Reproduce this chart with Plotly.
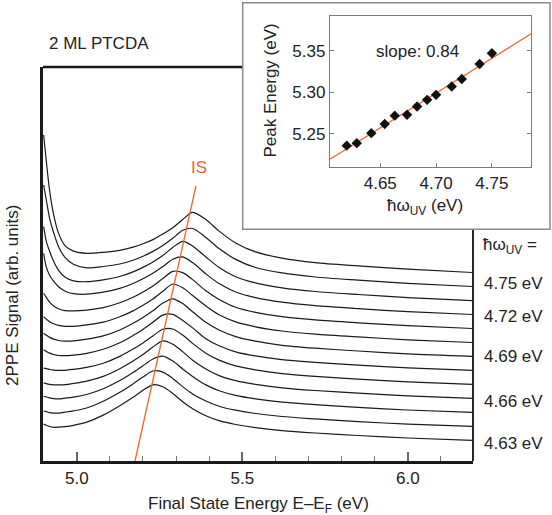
import numpy as np
import plotly.graph_objects as go

# ---------------- data ----------------
# final state energy grid (eV)
energy = [4.900, 4.908, 4.918, 4.930, 4.945, 4.965, 4.990, 5.030, 5.080, 5.130,
          5.170, 5.200, 5.230, 5.260, 5.290, 5.320, 5.350, 5.390, 5.430, 5.480,
          5.540, 5.620, 5.720, 5.850, 6.000, 6.195]

# 2PPE spectra (arb. units, offset), top (highest photon energy) to bottom
spec_4755 = [326.0, 299.9, 270.3, 246.6, 227.6, 215.2, 209.9, 207.7, 208.7, 210.7, 213.8, 217.2, 221.4, 226.9, 233.3, 241.5, 248.6, 241.4, 229.9, 218.1, 209.1, 202.9, 198.4, 195.1, 191.8, 188.5]
spec_4744 = [276.0, 261.0, 242.6, 228.5, 214.3, 203.4, 196.8, 193.1, 194.5, 197.0, 200.8, 204.7, 209.6, 215.5, 222.7, 230.8, 232.5, 223.6, 212.4, 201.6, 193.5, 188.1, 184.0, 180.8, 177.6, 174.5]
spec_4728 = [234.3, 219.7, 209.7, 199.7, 190.7, 183.7, 180.2, 179.3, 181.1, 184.5, 189.1, 193.6, 199.1, 205.6, 213.5, 219.7, 215.1, 204.0, 193.6, 184.3, 178.1, 173.2, 169.5, 166.5, 163.4, 160.4]
spec_4719 = [207.7, 193.8, 185.8, 179.8, 174.3, 169.8, 167.3, 166.8, 168.8, 172.6, 177.5, 182.2, 187.7, 194.4, 201.8, 204.1, 198.4, 187.1, 177.4, 169.0, 163.4, 158.8, 155.3, 152.3, 149.3, 146.5]
spec_4704 = [167.7, 163.6, 158.9, 155.1, 152.3, 150.4, 150.1, 150.9, 153.4, 158.2, 163.7, 169.0, 175.0, 182.5, 189.7, 188.4, 181.4, 170.2, 161.6, 153.8, 148.7, 144.3, 141.1, 138.2, 135.3, 132.5]
spec_4696 = [144.3, 141.9, 139.3, 137.3, 135.6, 134.7, 134.7, 136.1, 138.8, 144.2, 150.1, 155.8, 162.0, 169.8, 177.0, 173.2, 165.5, 155.1, 146.3, 139.1, 134.2, 130.0, 126.9, 124.1, 121.2, 118.5]
spec_4688 = [127.8, 125.8, 123.6, 121.9, 120.5, 119.9, 120.2, 121.8, 125.1, 131.0, 137.7, 143.6, 150.2, 157.9, 162.2, 157.4, 149.3, 138.7, 131.0, 124.4, 119.8, 115.7, 112.8, 110.0, 107.1, 104.6]
spec_4678 = [111.2, 109.6, 107.9, 106.5, 105.5, 105.3, 105.9, 107.7, 111.7, 118.2, 125.5, 131.6, 138.8, 145.9, 146.6, 140.5, 133.1, 122.3, 115.3, 109.2, 105.1, 101.4, 98.7, 95.9, 93.1, 90.6]
spec_4668 = [92.9, 92.3, 91.5, 90.9, 90.6, 90.7, 91.7, 93.6, 97.8, 104.6, 111.9, 118.1, 125.1, 131.8, 132.0, 125.9, 117.6, 107.8, 100.9, 95.1, 91.1, 87.4, 84.6, 81.9, 79.2, 76.7]
spec_4659 = [78.1, 77.4, 76.7, 76.2, 76.1, 76.3, 77.5, 79.8, 84.6, 92.3, 100.0, 106.5, 113.9, 120.1, 116.8, 109.4, 100.8, 92.1, 85.4, 80.4, 76.6, 73.2, 70.5, 67.8, 65.1, 62.7]
spec_4646 = [64.8, 64.0, 63.1, 62.4, 62.1, 62.8, 63.9, 66.5, 72.2, 80.4, 88.5, 95.2, 102.0, 104.8, 99.9, 92.1, 84.6, 76.1, 70.2, 65.6, 62.1, 58.8, 56.4, 53.6, 51.0, 48.7]
spec_4633 = [50.0, 49.3, 48.4, 47.9, 47.9, 48.8, 50.1, 53.0, 59.7, 68.7, 77.1, 84.0, 90.0, 88.9, 82.6, 74.4, 67.1, 60.0, 54.8, 50.8, 47.5, 44.5, 42.1, 39.4, 36.9, 34.7]
spec_4623 = [36.9, 35.7, 34.5, 33.7, 33.8, 34.4, 35.7, 38.9, 45.9, 55.3, 63.7, 70.7, 76.2, 74.2, 67.5, 59.3, 52.3, 45.3, 40.4, 36.5, 33.3, 30.4, 28.0, 25.5, 23.0, 20.7]
spectra = [spec_4755, spec_4744, spec_4728, spec_4719, spec_4704, spec_4696, spec_4688,
           spec_4678, spec_4668, spec_4659, spec_4646, spec_4633, spec_4623]

# image-state dispersion guide line (final state energy, signal)
is_line_x = [5.176, 5.360]
is_line_y = [0.0, 275.0]

# photon-energy labels on the right
label_texts = ["4.75 eV", "4.72 eV", "4.69 eV", "4.66 eV", "4.63 eV"]

# inset: peak energy vs photon energy
photon_energy = [4.620, 4.629, 4.642, 4.654, 4.663, 4.674, 4.683, 4.692, 4.700, 4.714, 4.723, 4.739, 4.750]
peak_energy = [5.236, 5.239, 5.251, 5.262, 5.272, 5.273, 5.283, 5.291, 5.297, 5.307, 5.316, 5.334, 5.347]
inset_x_ticks = [4.65, 4.70, 4.75]
inset_y_ticks = [5.25, 5.30, 5.35]
main_x_ticks = [5.0, 5.5, 6.0]

# ---------------- figure ----------------
W, H = 552, 515
FONT = "Liberation Sans, Arial, sans-serif"
ORANGE = "#f0642d"
TXT = "#222222"


def px(x):
    return x / W


def py(y):
    return (H - y) / H


fig = go.Figure()

for s in spectra:
    fig.add_trace(go.Scatter(x=energy, y=s, mode="lines",
                             line=dict(color="#1a1a1a", width=1.2, shape="spline", smoothing=0.8),
                             xaxis="x", yaxis="y", showlegend=False, hoverinfo="skip"))

fig.add_trace(go.Scatter(x=is_line_x, y=is_line_y, mode="lines",
                         line=dict(color=ORANGE, width=1.3),
                         xaxis="x", yaxis="y", showlegend=False))

# inset fit line
coef = np.polyfit(photon_energy, peak_energy, 1)
fit_x = np.array([4.605, 4.785])
fig.add_trace(go.Scatter(x=fit_x, y=np.polyval(coef, fit_x), mode="lines",
                         line=dict(color=ORANGE, width=1.2),
                         xaxis="x2", yaxis="y2", showlegend=False))
fig.add_trace(go.Scatter(x=photon_energy, y=peak_energy, mode="markers",
                         marker=dict(symbol="diamond", size=8, color="#111111"),
                         error_y=dict(type="constant", value=0.002, color="#111111",
                                      thickness=1, width=0),
                         xaxis="x2", yaxis="y2", showlegend=False))

main_x_dom = [px(43), px(473)]
main_y_dom = [py(461), py(67)]
ins_x_dom = [px(330), px(531)]
ins_y_dom = [py(167.3), py(15.7)]

fig.update_layout(
    width=W, height=H, autosize=False,
    margin=dict(l=0, r=0, t=0, b=0),
    paper_bgcolor="white", plot_bgcolor="rgba(0,0,0,0)",
    font=dict(family=FONT, size=17, color=TXT),
    xaxis=dict(domain=main_x_dom, anchor="y", range=[4.898, 6.197],
               showline=True, linecolor="#1a1a1a", linewidth=2.5, mirror=False,
               showgrid=False, zeroline=False,
               tickmode="array", tickvals=main_x_ticks, ticktext=[f"{v:.1f}" for v in main_x_ticks],
               ticks="inside", ticklen=9, tickwidth=1.5, tickcolor="#666666",
               minor=dict(dtick=0.1, tick0=5.0, ticks="inside", ticklen=5, tickwidth=1.2, tickcolor="#777777"),
               tickfont=dict(size=17, color=TXT)),
    yaxis=dict(domain=main_y_dom, anchor="x", range=[0, 394],
               showline=True, linecolor="#1a1a1a", linewidth=2.5, mirror=False,
               showgrid=False, zeroline=False, showticklabels=False, ticks=""),
    xaxis2=dict(domain=ins_x_dom, anchor="y2", range=[4.605, 4.785],
                showline=True, linecolor="#7a7a7a", linewidth=1.3, mirror=True,
                showgrid=False, zeroline=False,
                tickmode="array", tickvals=inset_x_ticks, ticktext=[f"{v:.2f}" for v in inset_x_ticks],
                ticks="inside", ticklen=4, tickcolor="#7a7a7a",
                tickfont=dict(size=17, color=TXT)),
    yaxis2=dict(domain=ins_y_dom, anchor="x2", range=[5.21, 5.392],
                showline=True, linecolor="#7a7a7a", linewidth=1.3, mirror="allticks",
                showgrid=False, zeroline=False,
                tickmode="array", tickvals=inset_y_ticks, ticktext=[f"{v:.2f}" for v in inset_y_ticks],
                ticks="inside", ticklen=4, tickcolor="#7a7a7a",
                tickfont=dict(size=17, color=TXT)),
)

# frame pieces of the main plot and the inset box
fig.add_shape(type="line", xref="paper", yref="paper",
              x0=px(43), x1=px(242.7), y0=py(67), y1=py(67),
              line=dict(color="#1a1a1a", width=2.5))
fig.add_shape(type="line", xref="paper", yref="paper",
              x0=px(473), x1=px(473), y0=py(461), y1=py(229.3),
              line=dict(color="#2a2a2a", width=2))
fig.add_shape(type="rect", xref="paper", yref="paper",
              x0=px(242.7), x1=px(550), y0=py(229.3), y1=py(2.7),
              line=dict(color="#8a8a8a", width=1.5), fillcolor="rgba(0,0,0,0)")


def ann(text, x, y, xanchor="center", yanchor="middle", angle=0, color=TXT, size=17):
    fig.add_annotation(text=text, x=px(x), y=py(y), xref="paper", yref="paper",
                       xanchor=xanchor, yanchor=yanchor, textangle=angle, showarrow=False,
                       font=dict(family=FONT, size=size, color=color))


ann("2 ML PTCDA", 47, 43, xanchor="left")
ann("IS", 199, 167, color=ORANGE)
ann("2PPE Signal (arb. units)", 12, 296, angle=-90)
ann("Final State Energy E\u2013E<sub>F</sub> (eV)", 258, 505)
ann("\u0127\u03c9<sub>UV</sub> =", 481, 246, xanchor="left")
for t, yy in zip(label_texts, [283.3, 316.7, 356.7, 401.7, 443.0]):
    ann(t, 482, yy, xanchor="left")
ann("Peak Energy (eV)", 270, 90.5, angle=-90)
ann("\u0127\u03c9<sub>UV</sub> (eV)", 425, 207)
ann("slope: 0.84", 417, 51)

fig.write_html("out.html")
